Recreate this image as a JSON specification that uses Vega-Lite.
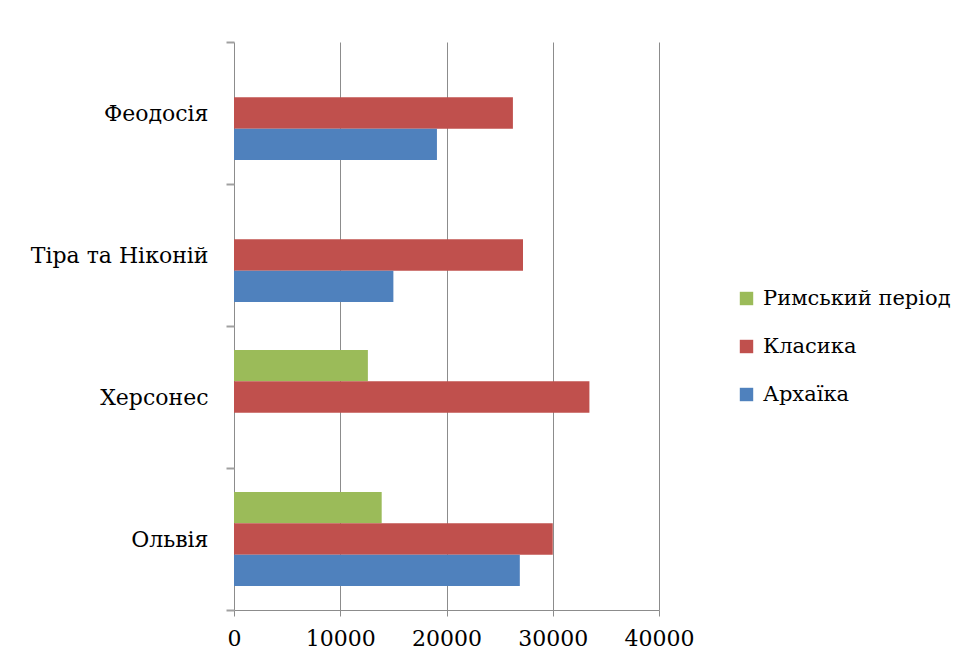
{
  "$schema": "https://vega.github.io/schema/vega-lite/v6.json",
  "width": 425,
  "height": 568,
  "autosize": {"type": "none"},
  "padding": {"left": 234, "top": 42, "right": 321, "bottom": 57},
  "background": "white",
  "config": {
    "view": {"stroke": null},
    "font": "DejaVu Serif"
  },
  "data": {
    "values": [
      {"city": "Феодосія", "period": "Класика", "value": 26250},
      {"city": "Феодосія", "period": "Архаїка", "value": 19100},
      {"city": "Тіра та Ніконій", "period": "Класика", "value": 27200},
      {"city": "Тіра та Ніконій", "period": "Архаїка", "value": 15000},
      {"city": "Херсонес", "period": "Римський період", "value": 12600},
      {"city": "Херсонес", "period": "Класика", "value": 33450},
      {"city": "Ольвія", "period": "Римський період", "value": 13900},
      {"city": "Ольвія", "period": "Класика", "value": 30000},
      {"city": "Ольвія", "period": "Архаїка", "value": 26900}
    ]
  },
  "mark": {"type": "bar"},
  "encoding": {
    "y": {
      "field": "city",
      "type": "nominal",
      "sort": ["Феодосія", "Тіра та Ніконій", "Херсонес", "Ольвія"],
      "scale": {"paddingInner": 0, "paddingOuter": 0},
      "axis": {
        "title": null,
        "tickBand": "extent",
        "ticks": true,
        "tickColor": "#a0a0a0",
        "tickSize": 8,
        "tickWidth": 2,
        "domain": false,
        "labelPadding": 18,
        "labelFontSize": 22,
        "labelLimit": 300,
        "labelColor": "#000000",
        "labelFont": "DejaVu Serif"
      }
    },
    "yOffset": {
      "field": "period",
      "type": "nominal",
      "sort": ["Римський період", "Класика", "Архаїка"],
      "scale": {"paddingInner": 0, "paddingOuter": 0.768}
    },
    "x": {
      "field": "value",
      "type": "quantitative",
      "scale": {"domain": [0, 40000]},
      "axis": {
        "title": null,
        "values": [0, 10000, 20000, 30000, 40000],
        "format": "d",
        "grid": true,
        "gridColor": "#8c8c8c",
        "gridWidth": 1,
        "domainColor": "#8c8c8c",
        "tickColor": "#8c8c8c",
        "tickSize": 6,
        "labelFlush": false,
        "labelOverlap": false,
        "labelFontSize": 22,
        "labelColor": "#000000",
        "labelPadding": 12,
        "labelFont": "DejaVu Serif"
      }
    },
    "color": {
      "field": "period",
      "type": "nominal",
      "sort": ["Римський період", "Класика", "Архаїка"],
      "scale": {
        "domain": ["Римський період", "Класика", "Архаїка"],
        "range": ["#9BBB59", "#C0504D", "#4F81BD"]
      },
      "legend": {
        "title": null,
        "orient": "none",
        "legendX": 502,
        "legendY": 246,
        "symbolType": "square",
        "symbolSize": 180,
        "symbolStrokeWidth": 0,
        "labelFontSize": 21,
        "labelLimit": 400,
        "labelColor": "#000000",
        "labelFont": "DejaVu Serif",
        "rowPadding": 26,
        "labelOffset": 6
      }
    }
  }
}
